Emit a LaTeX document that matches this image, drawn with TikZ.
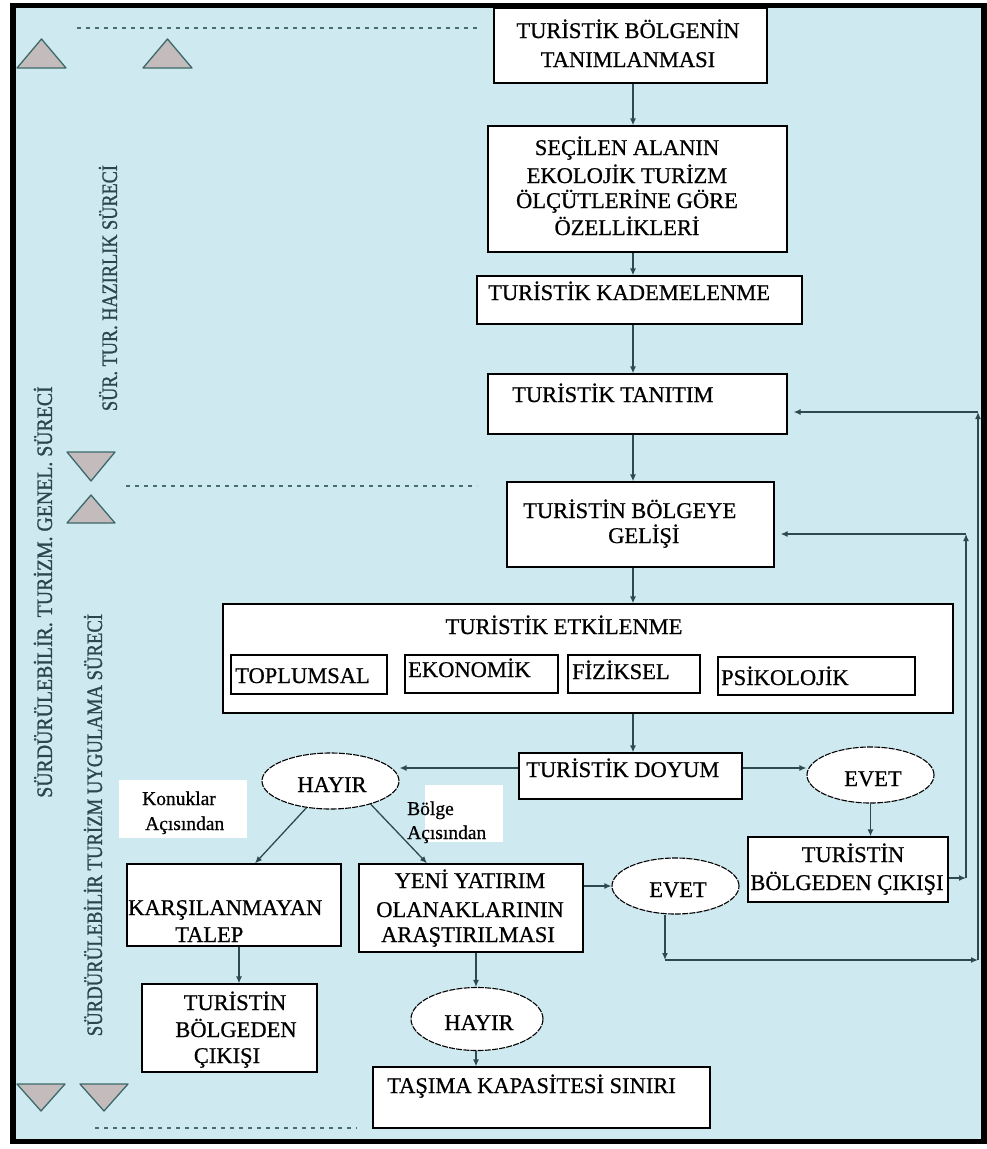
\documentclass[tikz,border=0pt]{standalone}
\usepackage{fontspec}
\usepackage{graphicx}
\setmainfont{Liberation Serif}
\newfontfamily\heavy{Liberation Serif}[FakeBold=0.7]
\newfontfamily\vheavy{Liberation Serif}[FakeBold=1.2]
\usetikzlibrary{arrows.meta,shapes.geometric,calc}
\definecolor{bgc}{RGB}{206,234,240}
\definecolor{wirec}{RGB}{45,75,78}
\definecolor{trifill}{RGB}{196,188,188}
\definecolor{triline}{RGB}{60,105,105}
\definecolor{dshc}{RGB}{70,110,112}
\definecolor{vtxt}{RGB}{45,70,75}
\begin{document}
\begin{tikzpicture}[x=1pt,y=-1pt,
  box/.style={draw=black,line width=1.3pt,fill=white,rectangle,inner sep=0pt},
  oval/.style={draw=black,line width=1.1pt,fill=white,ellipse,inner sep=0pt,dash pattern=on 6pt off 1.2pt},
  lbl/.style={font=\heavy\fontsize{22.5}{27}\selectfont,inner sep=0pt,anchor=base},
  lbll/.style={lbl,anchor=base west},
  small/.style={font=\heavy\fontsize{19.5}{22}\selectfont,inner sep=0pt,anchor=base west},
  arr/.style={draw=wirec,line width=1.3pt,-{Latex[length=7pt,width=6pt]}},
  trist/.style={fill=trifill,draw=triline,line width=1.3pt,line join=round},
  dl/.style={draw=dshc,line width=1.5pt,dash pattern=on 4pt off 5pt},
  vt/.style={rotate=90,text=vtxt,inner sep=0pt}
]
\useasboundingbox (0,0) rectangle (987,1149);
\fill[white] (0,0) rectangle (987,1149);
\fill[bgc] (13,5) rectangle (985,1142);
\draw[line width=5.5pt] (13,5.5) rectangle (984,1141.5);

% dashed separators
\draw[dl] (77,28) -- (477,28);
\draw[dl] (126,486) -- (477,486);
\draw[dl] (95,1128) -- (357,1128);

% triangles
\draw[trist] (17,68) -- (41.5,39) -- (66,68) -- cycle;
\draw[trist] (143,68) -- (167.5,39) -- (192,68) -- cycle;
\draw[trist] (67,452) -- (115,452) -- (91,481) -- cycle;
\draw[trist] (67,523) -- (91,495) -- (115,523) -- cycle;
\draw[trist] (17,1084) -- (65,1084) -- (41,1111) -- cycle;
\draw[trist] (80,1084) -- (128,1084) -- (104,1111) -- cycle;

% vertical texts
\node[vt] (vhaz) at (108,288) {\scalebox{0.83}[1]{\vheavy\fontsize{22}{26}\selectfont SÜR. TUR. HAZIRLIK SÜRECİ}};
\node[vt] (vgen) at (43,592) {\scalebox{0.90}[1]{\vheavy\fontsize{22}{26}\selectfont SÜRDÜRÜLEBİLİR. TURİZM. GENEL. SÜRECİ}};
\node[vt] (vuyg) at (93,825) {\scalebox{0.85}[1]{\vheavy\fontsize{22}{26}\selectfont SÜRDÜRÜLEBİLİR TURİZM UYGULAMA SÜRECİ}};

% boxes
\node[box,minimum width=273pt,minimum height=75pt] (b1) at (630.5,45.5) {};
\node[box,minimum width=299pt,minimum height=126pt] (b2) at (637.5,189) {};
\node[box,minimum width=325pt,minimum height=48pt] (b3) at (639.5,300) {};
\node[box,minimum width=299pt,minimum height=60pt] (tan) at (637.5,404) {};
\node[box,minimum width=267pt,minimum height=85pt] (gel) at (640.5,524.5) {};
\node[box,minimum width=730pt,minimum height=109pt] (etk) at (588,658.5) {};
\node[box,minimum width=156pt,minimum height=39pt] (top) at (309,674.5) {};
\node[box,minimum width=153pt,minimum height=38pt] (eko) at (481.5,674) {};
\node[box,minimum width=132pt,minimum height=38pt] (fiz) at (634,674) {};
\node[box,minimum width=197pt,minimum height=38pt] (psi) at (816.5,676) {};
\node[box,minimum width=223pt,minimum height=46pt] (doy) at (630.5,776) {};
\node[box,minimum width=200pt,minimum height=65pt] (tbr) at (848,869.5) {};
\node[box,minimum width=224pt,minimum height=88pt] (yen) at (471,908) {};
\node[box,minimum width=214pt,minimum height=82pt] (kar) at (234,905) {};
\node[box,minimum width=175pt,minimum height=88pt] (tbl) at (229.5,1028) {};
\node[box,minimum width=337pt,minimum height=61pt] (tas) at (541.5,1097.5) {};

% ellipses
\node[oval,minimum width=137pt,minimum height=56pt] (hu) at (330.5,781) {};
\node[oval,minimum width=132pt,minimum height=63pt] (hl) at (477,1019) {};
\node[oval,minimum width=127pt,minimum height=56pt] (evu) at (870.5,775) {};
\node[oval,minimum width=127pt,minimum height=56pt] (evl) at (675.5,886) {};

% white label backgrounds
\node[fill=white,inner sep=0pt,minimum width=128pt,minimum height=58pt] (kbg) at (183,809) {};
\node[fill=white,inner sep=0pt,minimum width=78pt,minimum height=57pt] (bbg) at (464,813.5) {};

% texts
\node[lbl] (b1a) at (628,38) {TURİSTİK BÖLGENİN};
\node[lbl] (b1b) at (628,67) {TANIMLANMASI};
\node[lbl] (b2a) at (627,155) {SEÇİLEN ALANIN};
\node[lbl] (b2b) at (627,183) {EKOLOJİK TURİZM};
\node[lbl] (b2c) at (627,208) {ÖLÇÜTLERİNE GÖRE};
\node[lbl] (b2d) at (627,235) {ÖZELLİKLERİ};
\node[lbll] (b3a) at (488,300) {TURİSTİK KADEMELENME};
\node[lbll] (tana) at (512,402) {TURİSTİK TANITIM};
\node[lbll] (gela) at (523,518) {TURİSTİN BÖLGEYE};
\node[lbll] (gelb) at (608,543) {GELİŞİ};
\node[lbl] (etka) at (564,634) {TURİSTİK ETKİLENME};
\node[lbll] (topa) at (235,683) {TOPLUMSAL};
\node[lbll] (ekoa) at (408,677) {EKONOMİK};
\node[lbll] (fiza) at (572,679) {FİZİKSEL};
\node[lbll] (psia) at (721,685) {PSİKOLOJİK};
\node[lbll] (doya) at (526,777) {TURİSTİK DOYUM};
\node[lbl] (evua) at (873,786) {EVET};
\node[lbl] (evla) at (678,897) {EVET};
\node[lbl] (hua) at (332,792) {HAYIR};
\node[lbl] (hla) at (479,1030) {HAYIR};
\node[lbl] (tbra) at (853,862) {TURİSTİN};
\node[lbl] (tbrb) at (847,890) {BÖLGEDEN ÇIKIŞI};
\node[lbll] (kara) at (128,915) {KARŞILANMAYAN};
\node[lbll] (karb) at (175,942) {TALEP};
\node[lbl] (yena) at (470,888) {YENİ YATIRIM};
\node[lbl] (yenb) at (470,917) {OLANAKLARININ};
\node[lbl] (yenc) at (468,942) {ARAŞTIRILMASI};
\node[lbl] (tbla) at (235,1010) {TURİSTİN};
\node[lbl] (tblb) at (236,1037) {BÖLGEDEN};
\node[lbl] (tblc) at (227,1063) {ÇIKIŞI};
\node[lbll] (tasa) at (387,1093) {TAŞIMA KAPASİTESİ SINIRI};
\node[small] (ka) at (142,805) {Konuklar};
\node[small] (kb) at (145,830) {Açısından};
\node[small] (ba) at (407,815) {Bölge};
\node[small] (bb) at (407,839) {Açısından};

% connectors
\coordinate (col) at (633,0);
\draw[arr] (b1.south -| col) -- (b2.north -| col);
\draw[arr] (b2.south -| col) -- (b3.north -| col);
\draw[arr] (b3.south -| col) -- (tan.north -| col);
\draw[arr] (tan.south -| col) -- (gel.north -| col);
\draw[arr] (gel.south -| col) -- (etk.north -| col);
\draw[arr] (etk.south -| col) -- (doy.north -| col);
\coordinate (dy) at (0,768);
\draw[arr] (doy.east |- dy) -- (evu.west |- dy);
\draw[arr] (doy.west |- dy) -- (hu.east |- dy);
\draw[arr] (evu.south) -- (tbr.north -| evu.south);
\draw[arr] (hu.228) -- ([xshift=21pt]kar.north);
\draw[arr] (hu.-30) -- ([xshift=-44pt]yen.north);
\draw[arr] ([xshift=5pt]kar.south) -- ([xshift=5pt]kar.south |- tbl.north);
\draw[arr] ([xshift=5pt]yen.south) -- ([xshift=5pt]yen.south |- hl.north);
\draw[arr] ([xshift=-1pt]hl.south) -- ([xshift=-1pt]hl.south |- tas.north);
\draw[arr] (yen.east |- evl.west) -- (evl.west);
% outer feedback
\coordinate (c1) at (665,960);
\coordinate (c2) at (978,960);
\coordinate (c3) at (978,412);
\draw[arr] (evl.south -| c1) -- (c1);
\draw[arr] (c1) -- (c2);
\draw[arr] (c2) -- (c3);
\draw[arr] (c3) -- ([xshift=6pt]c3 -| tan.east);
% inner feedback
\coordinate (c4) at (966,878);
\coordinate (c5) at (966,534);
\draw[arr] (tbr.east |- c4) -- (c4);
\draw[arr] (c4) -- (c5);
\draw[arr] (c5) -- ([xshift=6pt]c5 -| gel.east);
\end{tikzpicture}
\end{document}
